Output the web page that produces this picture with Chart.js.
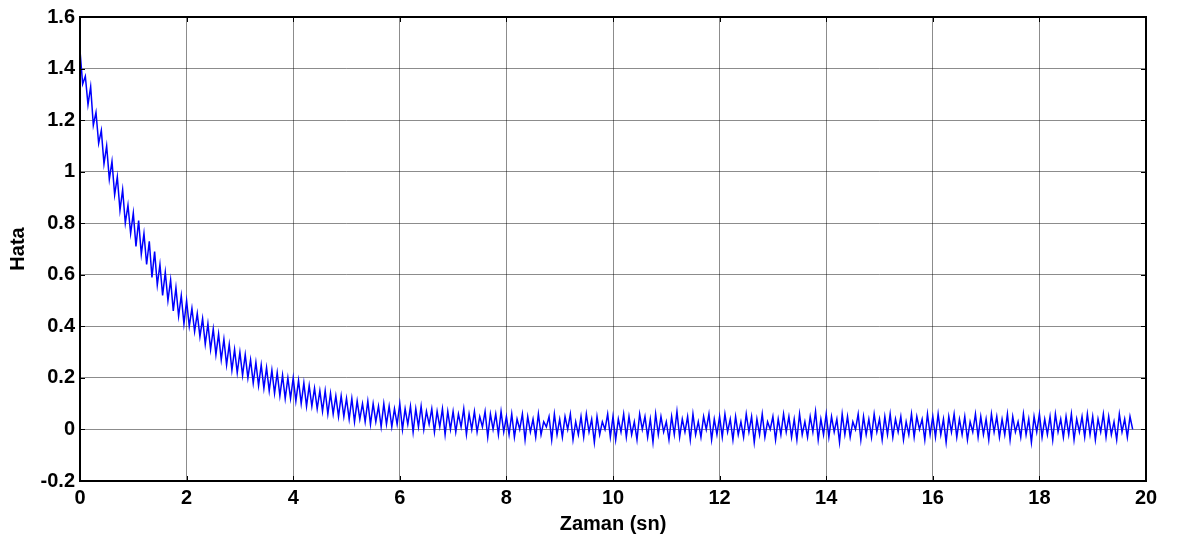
<!DOCTYPE html>
<html>
<head>
<meta charset="utf-8">
<script src="https://cdn.jsdelivr.net/npm/chart.js@4.4.1/dist/chart.umd.min.js"></script>
<style>
    html, body { margin: 0; padding: 0; background: #fff; }
    #wrap { width: 1181px; height: 545px; position: relative; }
</style>
</head>
<body>
<div id="wrap"><canvas id="errorChart"></canvas></div>
<script>
// sampling interval of the error signal (seconds)
const sampleStep = 0.05;

// error values, one per sample (t = 0 ... 19.75 s)
const hata = [
    // 0 - 1 s
    1.47, 1.34, 1.37, 1.26, 1.33, 1.18, 1.23, 1.11, 1.16, 1.03, 1.10, 0.97, 1.04, 0.91, 0.98, 0.85, 0.93, 0.80, 0.87, 0.76,
    // 1 - 2 s
    0.84, 0.71, 0.81, 0.68, 0.76, 0.64, 0.73, 0.59, 0.69, 0.56, 0.64, 0.52, 0.61, 0.50, 0.58, 0.46, 0.55, 0.44, 0.52, 0.41,
    // 2 - 3 s
    0.50, 0.40, 0.47, 0.38, 0.45, 0.36, 0.43, 0.33, 0.41, 0.31, 0.39, 0.29, 0.37, 0.27, 0.35, 0.25, 0.33, 0.23, 0.31, 0.22,
    // 3 - 4 s
    0.30, 0.21, 0.29, 0.20, 0.27, 0.18, 0.26, 0.17, 0.25, 0.16, 0.24, 0.15, 0.23, 0.14, 0.22, 0.13, 0.21, 0.12, 0.20, 0.12,
    // 4 - 5 s
    0.20, 0.11, 0.19, 0.10, 0.18, 0.09, 0.17, 0.09, 0.16, 0.08, 0.15, 0.07, 0.15, 0.06, 0.14, 0.06, 0.13, 0.05, 0.13, 0.05,
    // 5 - 6 s
    0.12, 0.04, 0.12, 0.03, 0.11, 0.04, 0.10, 0.03, 0.11, 0.02, 0.10, 0.03, 0.09, 0.01, 0.10, 0.02, 0.09, 0.01, 0.08, 0.02,
    // 6 - 7 s
    0.10, 0.00, 0.08, 0.02, 0.09, -0.01, 0.08, 0.01, 0.09, 0.00, 0.07, 0.02, 0.08, -0.01, 0.07, 0.01, 0.08, -0.02, 0.07, 0.00,
    // 7 - 8 s
    0.07, -0.01, 0.06, 0.01, 0.08, -0.02, 0.06, 0.00, 0.07, -0.01, 0.05, 0.01, 0.07, -0.03, 0.06, 0.00, 0.06, -0.02, 0.07, -0.01,
    // 8 - 9 s
    0.05, -0.02, 0.06, -0.03, 0.04, 0.00, 0.06, -0.04, 0.05, -0.01, 0.04, -0.03, 0.06, -0.02, 0.03, 0.01, 0.05, -0.04, 0.06, -0.02,
    // 9 - 10 s
    0.04, -0.03, 0.05, 0.00, 0.06, -0.04, 0.03, -0.02, 0.05, -0.03, 0.06, -0.01, 0.04, -0.05, 0.05, -0.02, 0.03, 0.00, 0.06, -0.03,
    // 10 - 11 s
    0.05, -0.04, 0.04, -0.01, 0.06, -0.03, 0.05, -0.02, 0.03, -0.04, 0.06, 0.00, 0.05, -0.03, 0.04, -0.05, 0.06, -0.02, 0.05, -0.01,
    // 11 - 12 s
    0.03, -0.04, 0.05, -0.02, 0.07, -0.03, 0.04, -0.01, 0.05, -0.04, 0.06, -0.02, 0.03, -0.03, 0.05, 0.00, 0.06, -0.04, 0.04, -0.02,
    // 12 - 13 s
    0.05, -0.03, 0.06, -0.01, 0.04, -0.04, 0.05, -0.02, 0.03, -0.03, 0.06, -0.01, 0.05, -0.05, 0.04, -0.02, 0.06, -0.03, 0.03, 0.00,
    // 13 - 14 s
    0.05, -0.04, 0.04, -0.02, 0.06, -0.01, 0.05, -0.03, 0.04, -0.04, 0.06, -0.02, 0.03, -0.03, 0.05, -0.01, 0.07, -0.04, 0.04, -0.02,
    // 14 - 15 s
    0.06, -0.03, 0.05, -0.01, 0.04, -0.05, 0.06, -0.02, 0.05, -0.03, 0.03, 0.00, 0.06, -0.04, 0.05, -0.02, 0.04, -0.03, 0.06, -0.01,
    // 15 - 16 s
    0.04, -0.04, 0.05, -0.02, 0.06, -0.03, 0.04, -0.01, 0.05, -0.04, 0.03, -0.02, 0.06, -0.03, 0.05, 0.00, 0.04, -0.04, 0.06, -0.02,
    // 16 - 17 s
    0.05, -0.03, 0.06, -0.02, 0.04, -0.05, 0.05, -0.01, 0.06, -0.03, 0.04, -0.02, 0.05, -0.04, 0.03, -0.01, 0.06, -0.03, 0.05, -0.02,
    // 17 - 18 s
    0.04, -0.04, 0.06, -0.01, 0.05, -0.03, 0.04, -0.02, 0.06, -0.04, 0.05, -0.01, 0.03, -0.03, 0.06, -0.02, 0.04, -0.05, 0.05, -0.01,
    // 18 - 19 s
    0.06, -0.03, 0.04, -0.02, 0.05, -0.04, 0.06, -0.01, 0.04, -0.03, 0.05, -0.02, 0.06, -0.04, 0.04, -0.01, 0.05, -0.03, 0.06, -0.02,
    // 19 - 19.75 s
    0.05, -0.04, 0.04, -0.01, 0.06, -0.03, 0.05, -0.02, 0.03, -0.04, 0.06, -0.01, 0.04, -0.03, 0.05, 0.00
];

const xTicks = [0, 2, 4, 6, 8, 10, 12, 14, 16, 18, 20];
const yTicks = [-0.2, 0, 0.2, 0.4, 0.6, 0.8, 1, 1.2, 1.4, 1.6];

const axisFont = { family: "'Liberation Sans', Arial, sans-serif", size: 20, weight: "bold" };

// MATLAB style box with inward ticks on all four sides
const matlabBox = {
    id: "matlabBox",
    afterDatasetsDraw(chart) {
        const { ctx, chartArea: a, scales: { x, y } } = chart;
        const len = 5;
        ctx.save();
        ctx.strokeStyle = "#000";
        ctx.lineWidth = 1;
        ctx.beginPath();
        xTicks.forEach(v => {
            const px = Math.round(x.getPixelForValue(v)) + 0.5;
            ctx.moveTo(px, a.bottom); ctx.lineTo(px, a.bottom - len);
            ctx.moveTo(px, a.top); ctx.lineTo(px, a.top + len);
        });
        yTicks.forEach(v => {
            const py = Math.round(y.getPixelForValue(v)) + 0.5;
            ctx.moveTo(a.left, py); ctx.lineTo(a.left + len, py);
            ctx.moveTo(a.right, py); ctx.lineTo(a.right - len, py);
        });
        ctx.stroke();
        ctx.lineWidth = 2;
        ctx.strokeRect(a.left, a.top, a.right - a.left, a.bottom - a.top);
        ctx.restore();
    }
};

document.addEventListener("DOMContentLoaded", () => {
    const canvas = document.getElementById("errorChart");
    const ctx = canvas.getContext("2d");

    window.errorChart = new Chart(ctx, {
        type: "line",
        data: {
            datasets: [{
                label: "Hata",
                data: hata.map((v, i) => ({ x: i * sampleStep, y: v })),
                borderColor: "#0000ff",
                borderWidth: 1.5,
                pointRadius: 0,
                tension: 0,
                fill: false
            }]
        },
        options: {
            responsive: true,
            maintainAspectRatio: false,
            animation: false,
            layout: { padding: { top: 14, right: 35, left: 0, bottom: 0 } },
            plugins: {
                legend: { display: false },
                tooltip: { enabled: false }
            },
            scales: {
                x: {
                    type: "linear",
                    min: 0,
                    max: 20,
                    afterBuildTicks: s => { s.ticks = xTicks.map(v => ({ value: v })); },
                    afterFit: s => { s.height = 64; },
                    grid: { color: "rgba(0,0,0,0.45)", lineWidth: 1, drawTicks: false },
                    border: { display: false },
                    ticks: { color: "#000", font: axisFont, padding: 5, maxRotation: 0 },
                    title: { display: true, text: "Zaman (sn)", color: "#000", font: axisFont, padding: { top: 0, bottom: 9 } }
                },
                y: {
                    min: -0.2,
                    max: 1.6,
                    afterBuildTicks: s => { s.ticks = yTicks.map(v => ({ value: v })); },
                    afterFit: s => { s.width = 80; },
                    grid: { color: "rgba(0,0,0,0.45)", lineWidth: 1, drawTicks: false },
                    border: { display: false },
                    ticks: {
                        color: "#000",
                        font: axisFont,
                        padding: 5,
                        callback: v => String(Number(v.toFixed(1)))
                    },
                    title: { display: true, text: "Hata", color: "#000", font: axisFont, padding: { top: 6, bottom: 0 } }
                }
            }
        },
        plugins: [matlabBox]
    });
});
</script>
</body>
</html>
